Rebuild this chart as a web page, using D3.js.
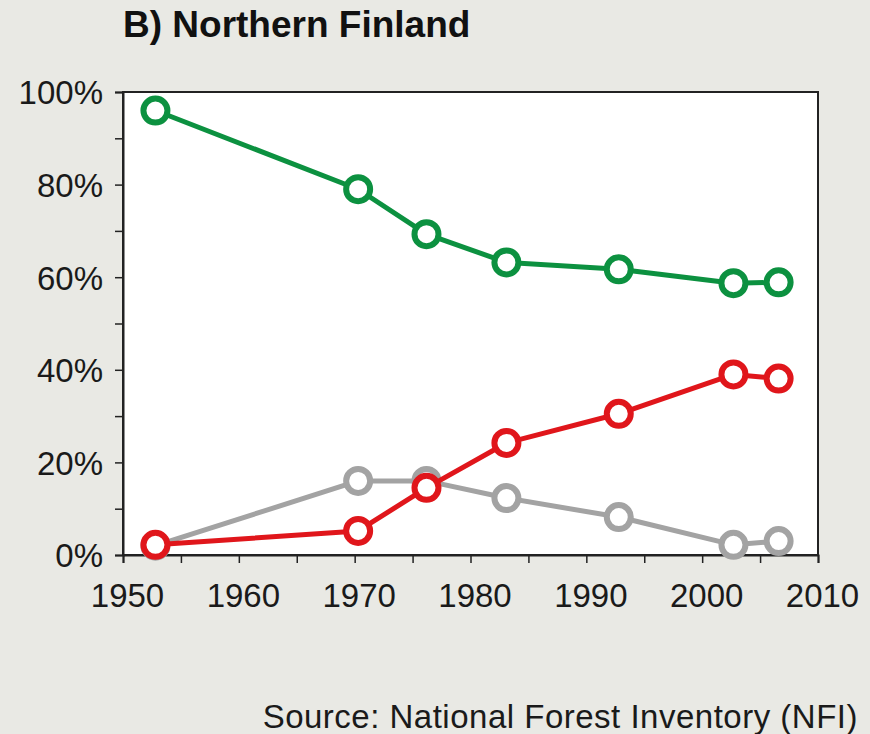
<!DOCTYPE html>
<html><head><meta charset="utf-8">
<script src="https://cdn.jsdelivr.net/npm/d3@7"></script>
<style>
body{margin:0;background:#e9e9e4;}
svg{display:block;font-family:"Liberation Sans",Arial,sans-serif;}
</style></head>
<body><svg id="c" width="870" height="734"></svg>
<script>
const years = [1952.8, 1970.3, 1976.2, 1983.1, 1992.8, 2002.7, 2006.6];
const greenValues = [96.0, 79.0, 69.3, 63.2, 61.7, 58.7, 58.9];
const redValues = [2.2, 5.2, 14.5, 24.2, 30.5, 39.0, 38.1];
const greyValues = [2.0, 16.0, 16.0, 12.3, 8.2, 2.2, 3.0];
const xTicks = [1950, 1955, 1960, 1965, 1970, 1975, 1980, 1985, 1990, 1995, 2000, 2005, 2010];
const xLabels = [1950, 1960, 1970, 1980, 1990, 2000, 2010];
const yTicks = [0, 10, 20, 30, 40, 50, 60, 70, 80, 90, 100];
const yLabels = [0, 20, 40, 60, 80, 100];
const series = [
  {name: "grey", values: greyValues, color: "#a3a3a3"},
  {name: "red", values: redValues, color: "#e0161b"},
  {name: "green", values: greenValues, color: "#0c9140"}
];

const svg = d3.select("#c");
const L = 123, R = 818, T = 92, B = 555;
const x = d3.scaleLinear().domain([1950, 2010]).range([L, R]);
const y = d3.scaleLinear().domain([0, 100]).range([B, T]);

svg.append("rect").attr("x", L).attr("y", T).attr("width", R - L).attr("height", B - T)
  .attr("fill", "#fff");

svg.append("rect").attr("x", L).attr("y", T).attr("width", R - L).attr("height", B - T)
  .attr("fill", "none").attr("stroke", "#222").attr("stroke-width", 2);

const xAxis = svg.append("g").attr("transform", `translate(0,${B})`)
  .call(d3.axisBottom(x).tickValues(xTicks).tickSize(8).tickFormat(d => xLabels.includes(d) ? d : ""));
const yAxis = svg.append("g").attr("transform", `translate(${L},0)`)
  .call(d3.axisLeft(y).tickValues(yTicks).tickSize(8).tickFormat(d => yLabels.includes(d) ? d + "%" : ""));
[xAxis, yAxis].forEach(a => {
  a.select(".domain").attr("stroke", "#222").attr("stroke-width", 2);
  a.selectAll(".tick line").attr("stroke", "#222").attr("stroke-width", 1.5);
  a.selectAll("text").attr("fill", "#1a1a1a").style("font-size", "33px")
    .style("font-family", "'Liberation Sans', Arial, sans-serif");
});
xAxis.selectAll("text").attr("y", 52).attr("dy", "0").attr("dx", "4");
yAxis.selectAll("text").attr("x", -20).attr("dy", "0.36em");

const line = d3.line().x((d, i) => x(years[i])).y(d => y(d));
series.forEach(s => {
  const g = svg.append("g");
  g.append("path").datum(s.values).attr("d", line).attr("fill", "none")
    .attr("stroke", s.color).attr("stroke-width", 5).attr("stroke-linejoin", "round");
  g.selectAll("circle").data(s.values).join("circle")
    .attr("cx", (d, i) => x(years[i])).attr("cy", d => y(d)).attr("r", 12)
    .attr("fill", "#fff").attr("stroke", s.color).attr("stroke-width", 6);
});

svg.append("text").attr("x", 123).attr("y", 37).text("B) Northern Finland")
  .attr("font-size", 37).attr("font-weight", "bold").attr("fill", "#111");
svg.append("text").attr("x", 858).attr("y", 728).attr("text-anchor", "end")
  .text("Source: National Forest Inventory (NFI)")
  .attr("font-size", 33).attr("fill", "#1a1a1a").style("letter-spacing", "0.5px");
</script></body></html>
